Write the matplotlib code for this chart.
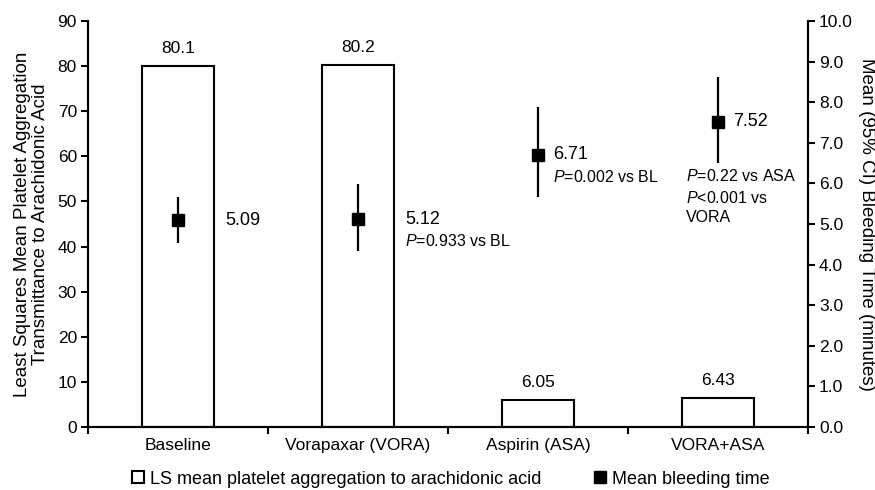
import matplotlib
matplotlib.use('Agg')
import matplotlib.pyplot as plt
from matplotlib.lines import Line2D

plt.rcParams['font.family'] = ['Liberation Sans', 'DejaVu Sans']
plt.rcParams['font.size'] = 12
plt.rcParams['mathtext.fontset'] = 'custom'
plt.rcParams['mathtext.rm'] = 'Liberation Sans'
plt.rcParams['mathtext.it'] = 'Liberation Sans:italic'

categories = ['Baseline', 'Vorapaxar (VORA)', 'Aspirin (ASA)', 'VORA+ASA']
aggregation = [80.1, 80.2, 6.05, 6.43]
bleeding = [5.09, 5.12, 6.71, 7.52]
ci_low = [4.53, 4.34, 5.66, 6.50]
ci_high = [5.67, 5.99, 7.89, 8.61]
bleed_labels = ['5.09', '5.12', '6.71', '7.52']

fig = plt.figure(figsize=(8.75, 4.9), dpi=100)
ax = fig.add_axes([0.1006, 0.1286, 0.8228, 0.8284])
ax2 = ax.twinx()

x = list(range(len(categories)))
ax.bar(x, aggregation, width=0.4, facecolor='white', edgecolor='black', linewidth=1.5, zorder=2)
for xi, v in zip(x, aggregation):
    ax.annotate(f'{v}', (xi, v), xytext=(0, 10), textcoords='offset pixels',
                ha='center', va='bottom', fontsize=12.5)

yerr = [[b - l for b, l in zip(bleeding, ci_low)], [h - b for b, h in zip(bleeding, ci_high)]]
ax2.errorbar(x, bleeding, yerr=yerr, fmt='s', color='black', markersize=8,
             elinewidth=1.6, capsize=0, zorder=3)

offsets = [47, 47, 15, 15]
for xi, b, lab, off in zip(x, bleeding, bleed_labels, offsets):
    ax2.annotate(lab, (xi, b), xytext=(off, 0), textcoords='offset pixels',
                 ha='left', va='center', fontsize=13)

pfs = 11.5
ax2.annotate(r'$\it{P}$=0.933 vs BL', (1, bleeding[1]), xytext=(47, -22),
             textcoords='offset pixels', ha='left', va='center', fontsize=pfs)
ax2.annotate(r'$\it{P}$=0.002 vs BL', (2, bleeding[2]), xytext=(15, -22),
             textcoords='offset pixels', ha='left', va='center', fontsize=pfs)
ax2.annotate(r'$\it{P}$=0.22 vs ASA', (3, bleeding[3]), xytext=(-32, -54),
             textcoords='offset pixels', ha='left', va='center', fontsize=pfs)
ax2.annotate(r'$\it{P}$<0.001 vs', (3, bleeding[3]), xytext=(-32, -76),
             textcoords='offset pixels', ha='left', va='center', fontsize=pfs)
ax2.annotate('VORA', (3, bleeding[3]), xytext=(-32, -96),
             textcoords='offset pixels', ha='left', va='center', fontsize=pfs)

ax.set_xlim(-0.5, 3.5)
ax.set_ylim(0, 90)
ax.set_yticks(range(0, 91, 10))
ax2.set_ylim(0, 10)
ax2.set_yticks([i for i in range(0, 11)])
ax2.set_yticklabels([f'{i:.1f}' for i in range(0, 11)])

ax.set_xticks([-0.5, 0.5, 1.5, 2.5, 3.5])
ax.set_xticklabels([])
ax.set_xticks(x, minor=True)
ax.set_xticklabels(categories, minor=True)
ax.tick_params(axis='x', which='minor', length=0, pad=8, labelsize=12.5)
ax.tick_params(axis='x', which='major', length=5, width=1.5, direction='out')
ax.tick_params(axis='y', length=5, width=1.5, direction='out', pad=3, labelsize=12.5)
ax2.tick_params(axis='y', length=5, width=1.5, direction='out', pad=3, labelsize=12.5)

for a in (ax, ax2):
    a.spines['top'].set_visible(False)
    for s in ('left', 'right', 'bottom'):
        a.spines[s].set_linewidth(1.5)

ax.set_ylabel('Least Squares Mean Platelet Aggregation\nTransmittance to Arachidonic Acid',
              fontsize=13.5, labelpad=6, linespacing=1.1)
ax2.set_ylabel('Mean (95% CI) Bleeding Time (minutes)', rotation=270, fontsize=13.5, labelpad=16)

handles = [
    Line2D([], [], marker='s', linestyle='none', markerfacecolor='white',
           markeredgecolor='black', markersize=8, markeredgewidth=1.5),
    Line2D([], [], marker='s', linestyle='none', color='black', markersize=8),
]
fig.legend(handles, ['LS mean platelet aggregation to arachidonic acid', 'Mean bleeding time'],
           loc='center', bbox_to_anchor=(0.515, 0.022), ncol=2, frameon=False, fontsize=13,
           handlelength=0.7, handletextpad=0.3, columnspacing=2.9)

fig.savefig('out.png', dpi=100)
